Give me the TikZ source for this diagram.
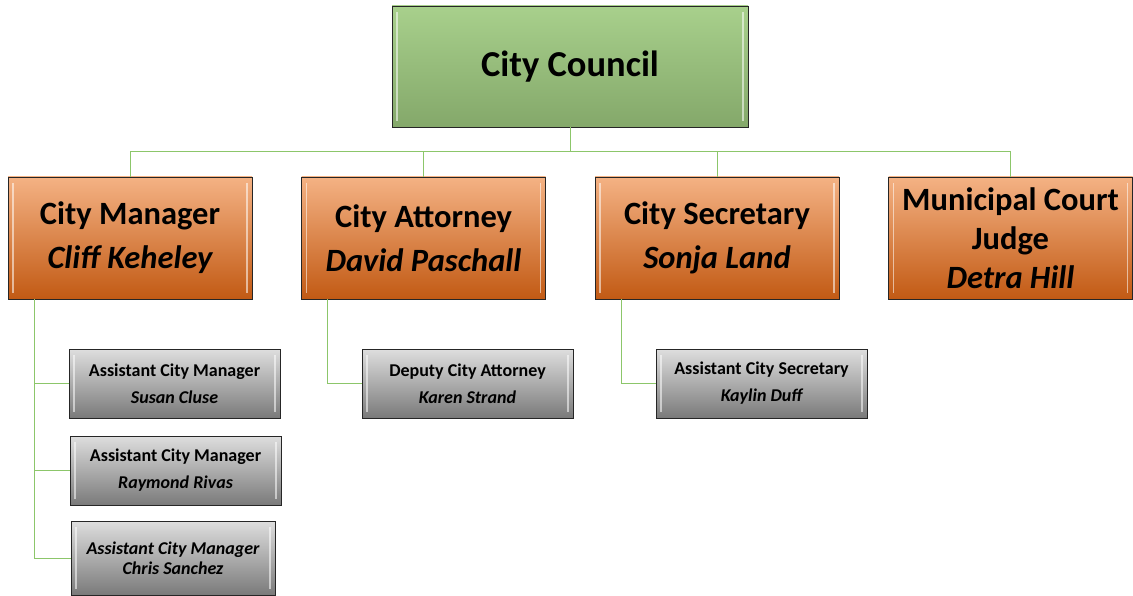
\documentclass[tikz,border=0pt]{standalone}
\usepackage{fontspec}
\setmainfont{Carlito}
\begin{document}
\begin{tikzpicture}[x=1pt,y=-1pt,
  bevel/.style={path picture={
    \draw[white,opacity=0.55,line width=1.2pt]
      ([xshift=5pt,yshift=-6pt]path picture bounding box.north west) --
      ([xshift=5pt,yshift=6pt]path picture bounding box.south west);
    \draw[white,opacity=0.55,line width=1.2pt]
      ([xshift=-5pt,yshift=-6pt]path picture bounding box.north east) --
      ([xshift=-5pt,yshift=6pt]path picture bounding box.south east);}},
  council/.style={draw=black!85,line width=0.9pt,bevel,
    top color=gcTop, middle color=gcMid, bottom color=gcBot,
    minimum width=356pt,minimum height=121pt,inner sep=0pt,
    font=\fontsize{36.5}{40}\selectfont\bfseries},
  head/.style={draw=black!85,line width=0.9pt,bevel,
    top color=orTop, middle color=orMid, bottom color=orBot,
    minimum width=244pt,minimum height=122pt,inner sep=0pt,align=center,
    font=\fontsize{32.5}{44}\selectfont\bfseries},
  sub/.style={draw=black!85,line width=0.9pt,bevel,
    top color=grTop, middle color=grMid, bottom color=grBot,
    minimum width=211pt,minimum height=69pt,inner sep=0pt,align=center,
    font=\fontsize{18}{27}\selectfont\bfseries},
  conn/.style={draw=lnk,line width=1pt}]
\definecolor{gcTop}{RGB}{168,208,140}
\definecolor{gcMid}{RGB}{114,176,74}
\definecolor{gcBot}{RGB}{132,168,106}
\definecolor{orTop}{RGB}{244,178,132}
\definecolor{orMid}{RGB}{236,128,55}
\definecolor{orBot}{RGB}{194,90,20}
\definecolor{grTop}{RGB}{222,222,222}
\definecolor{grMid}{RGB}{168,168,168}
\definecolor{grBot}{RGB}{122,122,122}
\definecolor{lnk}{RGB}{140,198,106}
\useasboundingbox (0,0) rectangle (1133,596);

% top level
\node[council] (council) at (570,66.5) {City Council};

% department heads
\node[head] (mgr) at (130,238) {City Manager\\\itshape Cliff Keheley};
\node[head] (att) at (423.5,238) {City Attorney\\\itshape David Paschall};
\node[head] (sec) at (717,238) {City Secretary\\\itshape Sonja Land};
\node[head,font=\fontsize{32.5}{39}\selectfont\bfseries] (jud) at (1010.5,238)
  {Municipal Court\\Judge\\\itshape Detra Hill};

% assistants and deputies
\node[sub] (acm1) at (174.5,383.5) {Assistant City Manager\\\itshape Susan Cluse};
\node[sub] (acm2) at (175.5,470.5) {Assistant City Manager\\\itshape Raymond Rivas};
\node[sub,minimum width=204pt,minimum height=74pt,
  font=\fontsize{18}{20}\selectfont\bfseries\itshape] (acm3) at (173,558)
  {Assistant City Manager\\Chris Sanchez};
\node[sub] (dca) at (467.5,383.5) {Deputy City Attorney\\\itshape Karen Strand};
\node[sub] (acs) at (761.5,383.5) {Assistant City Secretary\\\itshape Kaylin Duff};

% connectors
\coordinate (bus) at (570,152);
\coordinate (mgrdrop) at (34,299);
\coordinate (attdrop) at (327,299);
\coordinate (secdrop) at (621,299);
\draw[conn] (council.south) -- (bus);
\draw[conn] (bus) -| (mgr.north);
\draw[conn] (bus) -| (att.north);
\draw[conn] (bus) -| (sec.north);
\draw[conn] (bus) -| (jud.north);
\draw[conn] (mgrdrop) |- (acm1.west);
\draw[conn] (mgrdrop) |- (acm2.west);
\draw[conn] (mgrdrop) |- (acm3.west);
\draw[conn] (attdrop) |- (dca.west);
\draw[conn] (secdrop) |- (acs.west);
\end{tikzpicture}
\end{document}
